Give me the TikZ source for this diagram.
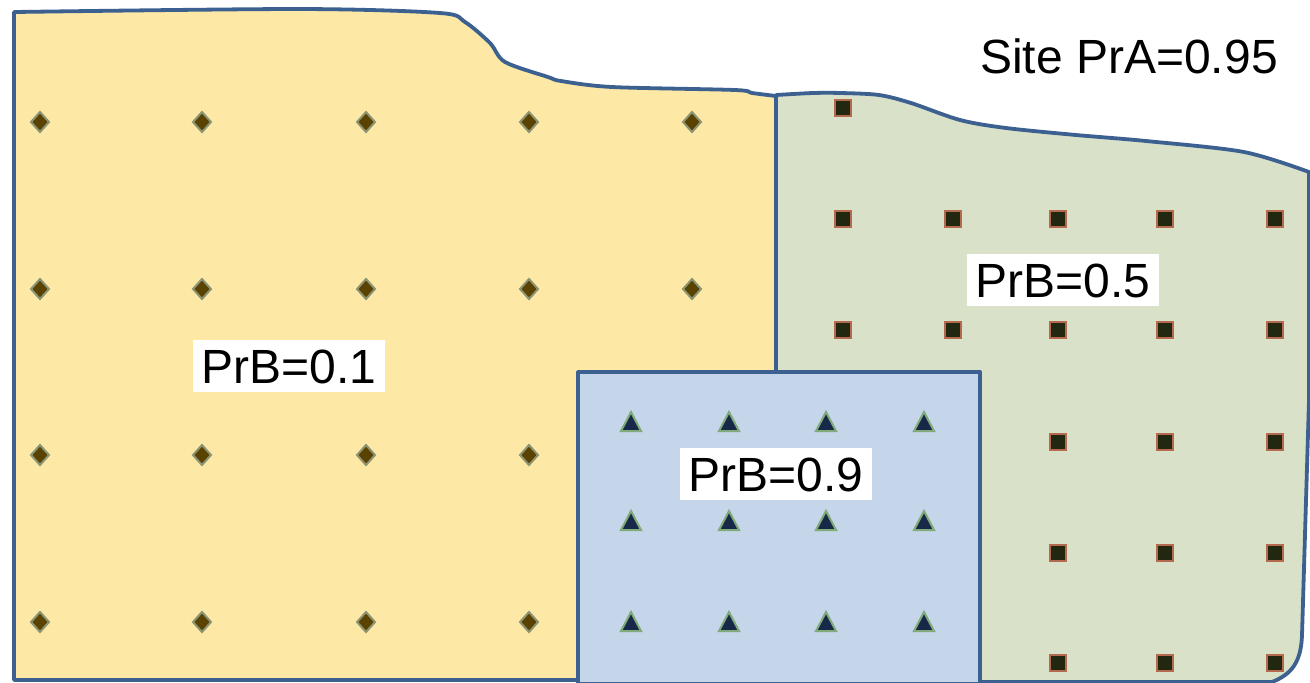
\documentclass[tikz,border=0pt]{standalone}
\usepackage{fontspec}
\setmainfont{Liberation Sans}
\definecolor{yellowfill}{HTML}{FDE8A6}
\definecolor{greenfill}{HTML}{D9E1C8}
\definecolor{bluefill}{HTML}{C5D5EA}
\definecolor{outline}{HTML}{3C6090}
\definecolor{diafill}{HTML}{5A4200}
\definecolor{diaborder}{HTML}{8C9474}
\definecolor{sqfill}{HTML}{222810}
\definecolor{sqborder}{HTML}{B5694F}
\definecolor{trifill}{HTML}{172848}
\definecolor{triborder}{HTML}{80AA78}
\tikzset{
  region/.style={draw=outline, line width=1.9pt, line join=round},
  labelbox/.style={fill=white, font=\fontsize{24}{28}\selectfont, text height=17.2pt, text depth=0pt, inner xsep=4.3pt, inner ysep=4.4pt},
  diamark/.style={fill=diafill, draw=diaborder, line width=1pt},
  sqmark/.style={fill=sqfill, draw=sqborder, line width=1.2pt},
  trimark/.style={fill=trifill, draw=triborder, line width=1pt, line join=miter},
}
\begin{document}
\begin{tikzpicture}[x=0.5pt, y=-0.5pt]
\useasboundingbox (0,0) rectangle (1310,682);
% yellow region
\path[region, fill=yellowfill] (14,680) -- (14,12)
  -- plot[smooth, tension=0.5] coordinates {(14,12) (300,9) (440,13) (465,22) (490,43) (505,62) (548,77) (561,81) (612,87) (735,90) (752,93) (776,96)}
  -- (776,372) -- (578,372) -- (578,680) -- cycle;
% green region
\path[region, fill=greenfill] (776,372) -- (776,96)
  -- plot[smooth, tension=0.5] coordinates {(776,95) (813,93) (841,93) (879,95) (911,103) (960,120) (1006,128) (1076,135) (1146,141) (1244,152) (1309,172)}
  -- (1309,400) -- (1302,635) .. controls (1301,662) and (1292,674) .. (1272,682)
  -- (980,682) -- (980,372) -- cycle;
% blue region
\path[region, fill=bluefill] (578,372) rectangle (980,684);
% diamonds
\foreach \x in {40,202,366,529,692} {
  \foreach \y in {122,289} {
    \path[diamark] (\x,\y-10) -- (\x+9,\y) -- (\x,\y+10) -- (\x-9,\y) -- cycle;
  }
}
\foreach \x in {40,202,366,529} {
  \foreach \y in {455,622} {
    \path[diamark] (\x,\y-10) -- (\x+9,\y) -- (\x,\y+10) -- (\x-9,\y) -- cycle;
  }
}
% squares
\path[sqmark] (835,100) rectangle (851,116);
\foreach \x in {843,953,1058,1165,1275} {
  \foreach \y in {219,330} {
    \path[sqmark] (\x-8,\y-8) rectangle (\x+8,\y+8);
  }
}
\foreach \x in {1058,1165,1275} {
  \foreach \y in {442,553,663} {
    \path[sqmark] (\x-8,\y-8) rectangle (\x+8,\y+8);
  }
}
% triangles
\foreach \x in {631,729,826,924} {
  \foreach \y in {422,521,622} {
    \path[trimark] (\x,\y-10) -- (\x+10,\y+9) -- (\x-10,\y+9) -- cycle;
  }
}
% labels
\node[labelbox] (l1) at (289,366) {PrB=0.1};
\node[labelbox] (l9) at (776,474) {PrB=0.9};
\node[labelbox] (l5) at (1063,280) {PrB=0.5};
\node[font=\fontsize{24}{28}\selectfont, anchor=base, inner sep=0pt] (site) at (1129,73) {Site PrA=0.95};
\end{tikzpicture}
\end{document}
